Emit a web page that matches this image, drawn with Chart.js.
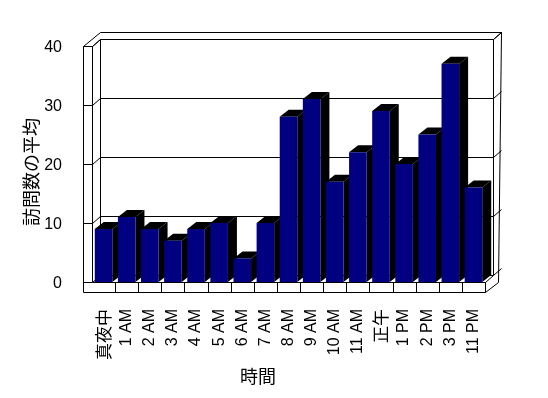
<!DOCTYPE html>
<html lang="ja">
<head>
<meta charset="utf-8">
<title>訪問数の平均</title>
<script src="https://cdn.jsdelivr.net/npm/chart.js@4/dist/chart.umd.min.js"></script>
<style>
    html, body {
        margin: 0;
        padding: 0;
        background: #ffffff;
    }

    #chart {
        display: block;
    }
</style>
</head>
<body>
<canvas id="chart" width="548" height="398"></canvas>
<script>
const hours = [
    "真夜中", "1 AM", "2 AM", "3 AM", "4 AM", "5 AM", "6 AM", "7 AM", "8 AM",
    "9 AM", "10 AM", "11 AM", "正午", "1 PM", "2 PM", "3 PM", "11 PM"
];

const avgVisits = [9, 11, 9, 7, 9, 10, 4, 10, 28, 31, 17, 22, 29, 20, 25, 37, 16];

const yTicks = [0, 10, 20, 30, 40];

const yTitle = "訪問数の平均";
const xTitle = "時間";

const FONT = "'Liberation Sans', Arial, 'Noto Sans CJK JP', sans-serif";
const CJK_FONT = "'Noto Sans CJK JP', 'Liberation Sans', sans-serif";

// depth of the walls / bars in the fake 3D view
const DX = 8;
const DY = -7;
const BAR_DX = 9;
const BAR_DY = -7;

function line(ctx, x1, y1, x2, y2) {
    ctx.beginPath();
    ctx.moveTo(x1, y1);
    ctx.lineTo(x2, y2);
    ctx.stroke();
}

function poly(ctx, pts) {
    ctx.beginPath();
    ctx.moveTo(pts[0][0], pts[0][1]);
    for (let i = 1; i < pts.length; i++) {
        ctx.lineTo(pts[i][0], pts[i][1]);
    }
    ctx.closePath();
    ctx.fill();
}

const box3d = {
    id: "box3d",

    beforeDatasetsDraw(chart) {
        const ctx = chart.ctx;
        const area = chart.chartArea;
        const y = chart.scales.y;
        const L = Math.round(area.left) + 0.5;
        const R = Math.round(area.right) + 0.5;
        const T = Math.round(area.top) + 0.5;
        const B = Math.round(area.bottom) + 0.5;
        const outerL = L - 9;

        ctx.save();
        ctx.strokeStyle = "#000000";
        ctx.lineWidth = 1;

        // left wall
        line(ctx, outerL, T, outerL, B + 10);
        line(ctx, L, T, L, B);
        line(ctx, outerL, T, L, T);
        line(ctx, outerL, T, L + DX, T + 2 * DY);
        line(ctx, L, T, L + DX, T + DY);

        // back wall
        line(ctx, L + DX, T + 2 * DY, R + 2 * DX, T + 2 * DY);
        line(ctx, L + DX, T + DY, L + DX, B + DY);
        line(ctx, R + DX, T + DY, R + DX, B + DY);
        line(ctx, R + DX, T + DY, R + 2 * DX, T + 2 * DY);
        line(ctx, R + 2 * DX, T + 2 * DY, R + 13, B);

        // grid lines on the back wall and ticks on the front edge
        yTicks.forEach(v => {
            const py = Math.round(y.getPixelForValue(v)) + 0.5;
            line(ctx, outerL, py, L, py);
            line(ctx, L, py, L + DX, py + DY);
            line(ctx, L + DX, py + DY, R + DX, py + DY);
            line(ctx, R + DX, py + DY, R + 2 * DX, py + 2 * DY);
        });

        // depth of the bars
        ctx.fillStyle = "#000000";
        const meta = chart.getDatasetMeta(0);
        meta.data.forEach(bar => {
            const p = bar.getProps(["x", "y", "base", "width"], true);
            const left = p.x - p.width / 2;
            const right = p.x + p.width / 2;
            poly(ctx, [
                [right, p.y],
                [right + BAR_DX, p.y + BAR_DY],
                [right + BAR_DX, p.base + BAR_DY],
                [right, p.base]
            ]);
            poly(ctx, [
                [left, p.y],
                [left + BAR_DX, p.y + BAR_DY],
                [right + BAR_DX, p.y + BAR_DY],
                [right, p.y]
            ]);
        });

        ctx.restore();
    },

    afterDatasetsDraw(chart) {
        const ctx = chart.ctx;
        const area = chart.chartArea;
        const x = chart.scales.x;
        const L = Math.round(area.left) + 0.5;
        const R = Math.round(area.right) + 0.5;
        const B = Math.round(area.bottom) + 0.5;
        const outerL = L - 9;

        ctx.save();
        ctx.strokeStyle = "#000000";
        ctx.lineWidth = 1;

        // floor
        ctx.fillStyle = "#ffffff";
        ctx.fillRect(L, B, R - L, 10);
        line(ctx, L, B, R, B);
        line(ctx, outerL, B + 10, R, B + 10);
        line(ctx, R, B, R, B + 10);
        line(ctx, R, B, R + DX, B + DY);
        line(ctx, R, B + 10, R + 13, B);

        for (let i = 1; i < hours.length; i++) {
            const px = Math.round(
                (x.getPixelForValue(i - 1) + x.getPixelForValue(i)) / 2
            ) + 0.5;
            line(ctx, px, B, px, B + 10);
        }

        ctx.restore();
    },

    afterDraw(chart) {
        const ctx = chart.ctx;

        ctx.save();
        ctx.fillStyle = "#000000";
        ctx.textAlign = "center";
        ctx.textBaseline = "middle";
        ctx.font = "18px " + CJK_FONT;

        ctx.translate(31, 172);
        ctx.rotate(-Math.PI / 2);
        ctx.fillText(yTitle, 0, 0);
        ctx.restore();

        ctx.save();
        ctx.fillStyle = "#000000";
        ctx.textAlign = "center";
        ctx.textBaseline = "middle";
        ctx.font = "18px " + CJK_FONT;
        ctx.fillText(xTitle, 258, 376);
        ctx.restore();
    }
};

new Chart(document.getElementById("chart"), {
    type: "bar",
    data: {
        labels: hours,
        datasets: [
            {
                label: yTitle,
                data: avgVisits,
                backgroundColor: "#000080",
                borderWidth: 0,
                categoryPercentage: 1,
                barPercentage: 0.76
            }
        ]
    },
    options: {
        responsive: false,
        animation: false,
        devicePixelRatio: 1,
        layout: {
            padding: {
                top: 46,
                right: 63,
                bottom: 0,
                left: 0
            }
        },
        plugins: {
            legend: { display: false },
            tooltip: { enabled: false }
        },
        scales: {
            x: {
                grid: { display: false },
                border: { display: false },
                ticks: {
                    color: "#000000",
                    minRotation: 90,
                    maxRotation: 90,
                    autoSkip: false,
                    padding: 19,
                    font: ctx => {
                        const label = hours[ctx.index] || "";
                        const cjk = /[^\x00-\x7f]/.test(label);
                        return {
                            family: cjk ? CJK_FONT : FONT,
                            size: cjk ? 17 : 16
                        };
                    }
                },
                afterFit: scale => {
                    scale.height = 116;
                }
            },
            y: {
                min: 0,
                max: 40,
                grid: { display: false },
                border: { display: false },
                ticks: {
                    stepSize: 10,
                    color: "#000000",
                    padding: 22,
                    labelOffset: 2,
                    font: {
                        family: FONT,
                        size: 16
                    }
                },
                afterFit: scale => {
                    scale.width = 92;
                }
            }
        }
    },
    plugins: [box3d]
});
</script>
</body>
</html>
